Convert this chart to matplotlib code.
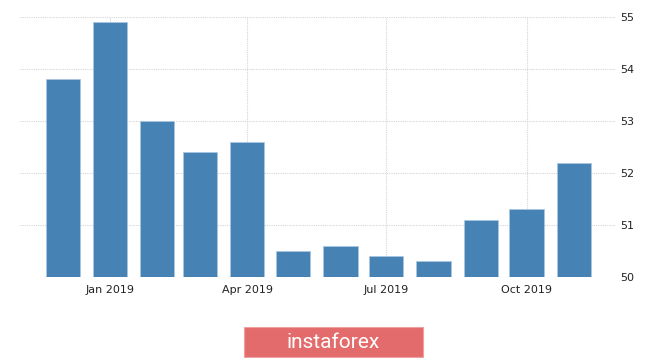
import matplotlib
matplotlib.use("Agg")
import matplotlib.pyplot as plt
import matplotlib.dates as mdates
import datetime as dt

months = ["2018-12", "2019-01", "2019-02", "2019-03", "2019-04", "2019-05",
          "2019-06", "2019-07", "2019-08", "2019-09", "2019-10", "2019-11"]
values = [53.8, 54.9, 53.0, 52.4, 52.6, 50.5, 50.6, 50.4, 50.3, 51.1, 51.3, 52.2]
tick_months = ["2019-01", "2019-04", "2019-07", "2019-10"]
tick_labels = ["Jan 2019", "Apr 2019", "Jul 2019", "Oct 2019"]
y_ticks = [50, 51, 52, 53, 54, 55]
watermark = "instaforex"

def to_date(s):
    y, m = s.split("-")
    return dt.date(int(y), int(m), 1)

dates = [to_date(m) for m in months]
tdates = [to_date(m) for m in tick_months]

fig = plt.figure(figsize=(6.65, 3.58), dpi=100)
ax = fig.add_axes([20/665, 1-277/358, (615-20)/665, (277-17)/358])

ax.bar(dates, [v - 50 for v in values], bottom=50, width=22.5,
       color="#4682b4", edgecolor="#a9c6e0", linewidth=0.6, zorder=3)

ax.set_xlim(dt.date(2018, 11, 3), dt.date(2019, 11, 28))
ax.set_ylim(50, 55)
ax.set_xticks(tdates)
ax.set_xticklabels(tick_labels)
ax.set_yticks(y_ticks)
ax.yaxis.tick_right()
ax.tick_params(axis="both", length=0, labelsize=8, colors="#222222")
ax.tick_params(axis="y", pad=4)
ax.tick_params(axis="x", pad=6)
for s in ax.spines.values():
    s.set_visible(False)
ax.grid(True, color="#d5d5d5", linestyle=(0, (1, 1)), linewidth=0.8, zorder=0)
ax.set_axisbelow(True)

# watermark box
fig.patches.append(matplotlib.patches.Rectangle(
    (244/665, 1-357/358), (423-244)/665, (357-327)/358,
    transform=fig.transFigure, facecolor="#e46b6c", edgecolor="#f0a0a0",
    linewidth=0.8, zorder=5))
fig.text((244+423)/2/665, 1-342/358, watermark, color="white", fontsize=15,
         ha="center", va="center",
         family=["Liberation Sans Narrow", "Roboto", "DejaVu Sans"],
         zorder=6)

fig.savefig("out.png", dpi=100)
